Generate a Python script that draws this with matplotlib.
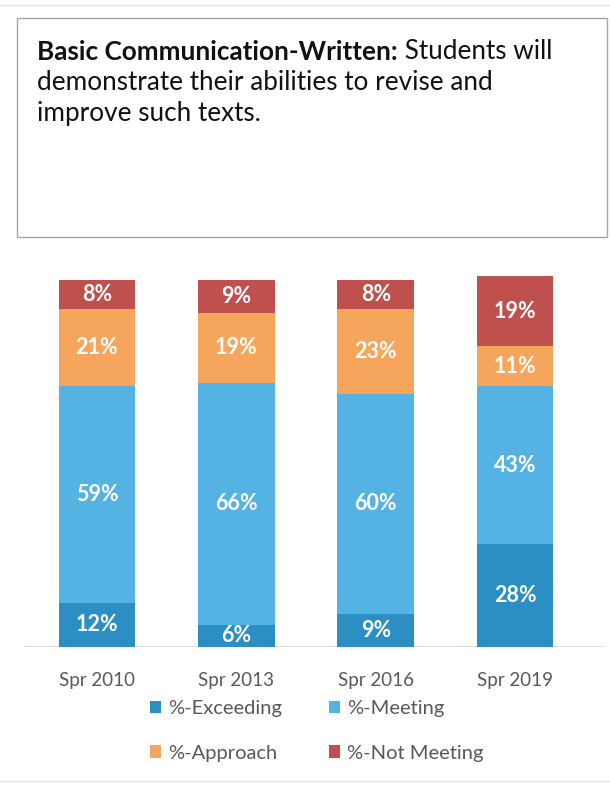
import matplotlib
matplotlib.use("Agg")
import matplotlib.pyplot as plt
from matplotlib.patches import Rectangle, Patch
import numpy as np

# Data
terms = ["Spr 2010", "Spr 2013", "Spr 2016", "Spr 2019"]
exceeding = [12, 6, 9, 28]
meeting = [59, 66, 60, 43]
approach = [21, 19, 23, 11]
not_meeting = [8, 9, 8, 19]

series_names = ["%-Exceeding", "%-Meeting", "%-Approach", "%-Not Meeting"]
colors = ["#2b8fc4", "#55b3e3", "#f6a65c", "#c0504d"]

plt.rcParams["font.family"] = ["Lato", "DejaVu Sans"]

W, H = 610, 785
fig = plt.figure(figsize=(W / 100, H / 100), dpi=100)
fig.patch.set_facecolor("white")

# Header box with the outcome statement (drawn underneath everything else)
box = Rectangle((17 / W, 1 - 237 / H), (607 - 17) / W, (237 - 18) / H,
                transform=fig.transFigure, facecolor="white",
                edgecolor="#a6a6a6", linewidth=1.0, zorder=-5)
fig.patches.append(box)

# Stacked bar chart
ax_left, ax_right = 25, 605
ax_bottom_px, ax_top_px = 647, 276.3
ax = fig.add_axes([ax_left / W, 1 - ax_bottom_px / H,
                   (ax_right - ax_left) / W, (ax_bottom_px - ax_top_px) / H])
ax.set_facecolor("none")

x = np.arange(len(terms))
width = 0.55
stack = [exceeding, meeting, approach, not_meeting]
bottom = np.zeros(len(terms))
for vals, col, name in zip(stack, colors, series_names):
    vals = np.array(vals, dtype=float)
    ax.bar(x, vals, width, bottom=bottom, color=col, label=name,
           linewidth=0, zorder=2)
    for xi, b, v in zip(x, bottom, vals):
        ax.text(xi, b + v / 2, f"{int(v)}%", ha="center", va="center",
                color="white", fontsize=15.5, fontweight="bold", zorder=3)
    bottom += vals

ax.set_xlim(-0.516, 3.645)
ax.set_ylim(0, 101)
for s in ax.spines.values():
    s.set_visible(False)
ax.axhline(0, color="#d9d9d9", linewidth=1.2, zorder=1)
ax.set_yticks([])
ax.set_xticks(x)
ax.set_xticklabels(terms, fontsize=13.5, color="#595959")
ax.tick_params(axis="x", length=0, pad=18)

title_size = 18.8
t1 = fig.text(37 / W, 1 - 52 / H, "Basic Communication-Written:",
              fontsize=title_size, fontweight="bold", color="#111111",
              va="center", ha="left")
ax.annotate(" Students will", xy=(1, 0), xycoords=t1,
            fontsize=title_size, color="#111111", va="bottom", ha="left",
            annotation_clip=False)
fig.text(37 / W, 1 - 83 / H, "demonstrate their abilities to revise and",
         fontsize=title_size, color="#111111", va="center", ha="left")
fig.text(37 / W, 1 - 114 / H, "improve such texts.",
         fontsize=title_size, color="#111111", va="center", ha="left")

# Faint page rules at the top and bottom edges
for yp in (5, 781):
    fig.add_artist(plt.Line2D([0, 1], [1 - yp / H] * 2,
                              transform=fig.transFigure,
                              color="#e4e4e4", linewidth=1.0))

# Legend in two rows
handles = [Patch(facecolor=c, edgecolor="none") for c in colors]
order = [0, 2, 1, 3]
fig.legend([handles[i] for i in order], [series_names[i] for i in order],
           ncol=2, loc="center left",
           bbox_to_anchor=(132 / W, 1 - 731 / H),
           frameon=False, fontsize=14.5, labelcolor="#595959",
           handlelength=0.55, handleheight=0.55, handletextpad=0.35,
           columnspacing=2.3, labelspacing=1.35)

fig.savefig("out.png", dpi=100, facecolor="white")
